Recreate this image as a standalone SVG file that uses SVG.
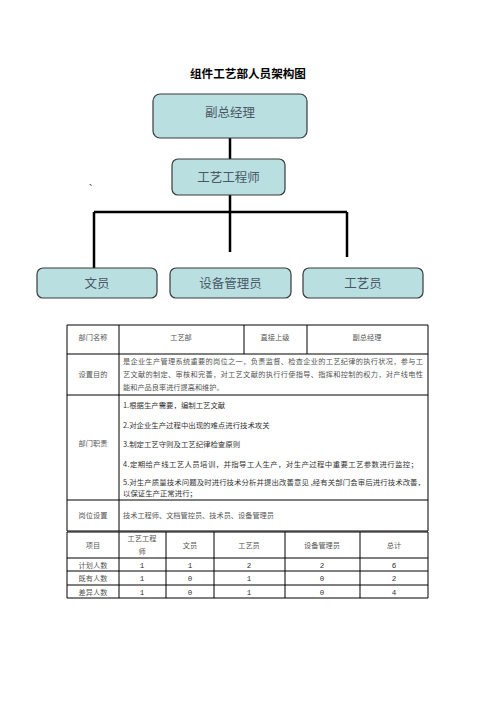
<svg xmlns="http://www.w3.org/2000/svg" width="496" height="702" viewBox="0 0 496 702">
<style>
.title{font-family:"Noto Sans CJK SC","Liberation Sans",sans-serif;font-size:11.6px;font-weight:bold;fill:#000;text-anchor:middle}
.box{fill:#b9dfe1;stroke:#3a3a3a;stroke-width:1.2}
.bt{font-family:"Noto Sans CJK SC",sans-serif;font-size:12.5px;fill:#4a5866;text-anchor:middle}
.conn{stroke:#000;stroke-width:2.5;fill:none}
.grid{stroke:#000;stroke-width:1;fill:none}
.t{font-family:"Noto Sans CJK SC",sans-serif;font-size:7.2px;fill:#555}
.c{text-anchor:middle}
.d{font-family:"Noto Sans CJK SC",sans-serif;font-size:7.4px;fill:#333}
.n{font-family:"Liberation Mono",monospace;font-size:7.5px;fill:#333;text-anchor:middle}
</style>
<rect width="496" height="702" fill="#fff"/>
<text class="title" x="248" y="78">组件工艺部人员架构图</text>
<text x="89" y="185" font-family="Noto Sans CJK SC,sans-serif" font-size="8" fill="#333">、</text>
<g id="connectors">
<path class="conn" d="M230 138V159M230 195V212M94 212H347M94 212V268M230 212V252M347 212V257"/>
</g>
<g id="n-vp"><rect class="box" x="153" y="94" width="154" height="44" rx="7"/><text class="bt" x="230" y="117">副总经理</text></g>
<g id="n-eng"><rect class="box" x="172" y="159" width="113" height="36" rx="6"/><text class="bt" x="228.5" y="181.5">工艺工程师</text></g>
<g id="n-clerk"><rect class="box" x="37" y="268" width="120" height="30" rx="6"/><text class="bt" x="97" y="288">文员</text></g>
<g id="n-equip"><rect class="box" x="170" y="268" width="121" height="30" rx="6"/><text class="bt" x="230.5" y="288">设备管理员</text></g>
<g id="n-tech"><rect class="box" x="303" y="268" width="120" height="30" rx="6"/><text class="bt" x="363" y="288">工艺员</text></g>
<g id="table">
<path class="grid" d="M67 325H428V531H67ZM67 354H428M67 395H428M67 500H428M119 325V531M244 325V354M307 325V354"/>
<text class="t c" x="93" y="340">部门名称</text>
<text class="t c" x="181" y="340">工艺部</text>
<text class="t c" x="275" y="340">直接上级</text>
<text class="t c" x="367" y="340">副总经理</text>
<text class="t c" x="93" y="377">设置目的</text>
<text class="t" x="123" y="364" textLength="300" lengthAdjust="spacing">是企业生产管理系统重要的岗位之一，负责监督、检查企业的工艺纪律的执行状况，参与工</text>
<text class="t" x="123" y="377" textLength="300" lengthAdjust="spacing">艺文献的制定、审核和完善，对工艺文献的执行行使指导、指挥和控制的权力，对产线电性</text>
<text class="t" x="123" y="390">能和产品良率进行提高和维护。</text>
<text class="t c" x="93" y="446">部门职责</text>
<text class="d" x="123" y="408">1.根据生产需要，编制工艺文献</text>
<text class="d" x="123" y="428">2.对企业生产过程中出现的难点进行技术攻关</text>
<text class="d" x="123" y="447">3.制定工艺守则及工艺纪律检查原则</text>
<text class="d" x="123" y="467" textLength="295" lengthAdjust="spacing">4.定期给产线工艺人员培训，并指导工人生产，对生产过程中重要工艺参数进行监控；</text>
<text class="d" x="123" y="485" textLength="302" lengthAdjust="spacing">5.对生产质量技术问题及时进行技术分析并提出改善意见 ,经有关部门会审后进行技术改善，</text>
<text class="d" x="123" y="496">以保证生产正常进行；</text>
<text class="t c" x="93" y="518">岗位设置</text>
<text class="t" x="123" y="518">技术工程师、文档管控员、技术员、设备管理员</text>
</g>
<g id="subtable">
<path class="grid" d="M67 532H428V598H67ZM67 558H428M67 571H428M67 585H428M119 532V598M166 532V598M214 532V598M285 532V598M360 532V598"/>
<text class="t c" x="93" y="548">项目</text>
<text class="t c" x="142" y="541">工艺工程</text>
<text class="t c" x="142" y="554">师</text>
<text class="t c" x="190" y="548">文员</text>
<text class="t c" x="249" y="548">工艺员</text>
<text class="t c" x="322" y="548">设备管理员</text>
<text class="t c" x="394" y="548">总计</text>
<text class="t c" x="93" y="567.5">计划人数</text>
<text class="t c" x="93" y="581">既有人数</text>
<text class="t c" x="93" y="594.5">差异人数</text>
<text class="n" x="142" y="567.5">1</text><text class="n" x="190" y="567.5">1</text><text class="n" x="249" y="567.5">2</text><text class="n" x="322" y="567.5">2</text><text class="n" x="394" y="567.5">6</text>
<text class="n" x="142" y="581">1</text><text class="n" x="190" y="581">0</text><text class="n" x="249" y="581">1</text><text class="n" x="322" y="581">0</text><text class="n" x="394" y="581">2</text>
<text class="n" x="142" y="594.5">1</text><text class="n" x="190" y="594.5">0</text><text class="n" x="249" y="594.5">1</text><text class="n" x="322" y="594.5">0</text><text class="n" x="394" y="594.5">4</text>
</g>
</svg>
